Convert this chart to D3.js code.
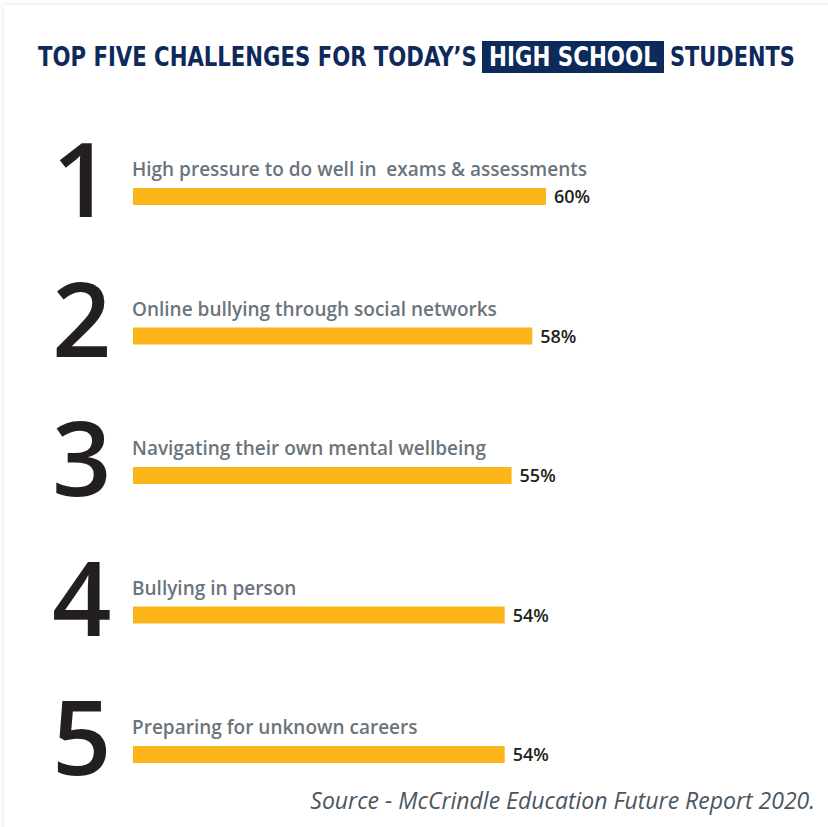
<!DOCTYPE html>
<html>
<head>
<meta charset="utf-8">
<script src="https://cdn.jsdelivr.net/npm/d3@7/dist/d3.min.js"></script>
<style>
  html, body { margin: 0; padding: 0; background: #fff; }
  svg { display: block; }
</style>
</head>
<body>
<div id="chart"></div>
<script>
// data
const ranks = ["1", "2", "3", "4", "5"];
const challenges = [
    "High pressure to do well in\u00a0 exams & assessments",
    "Online bullying through social networks",
    "Navigating their own mental wellbeing",
    "Bullying in person",
    "Preparing for unknown careers"
];
const percents = [60, 58, 55, 54, 54];
const titleParts = ["TOP FIVE CHALLENGES FOR TODAY\u2019S", "HIGH SCHOOL", "STUDENTS"];
const sourceText = "Source - McCrindle Education Future Report 2020.";

const width = 828, height = 827;
const navy = "#0d2a5b", gold = "#fbb518", grey = "#6b747c", ink = "#231f20";

const svg = d3.select("#chart").append("svg")
    .attr("width", width)
    .attr("height", height);

// card with a soft shadow along top and left
const defs = svg.append("defs");
const f = defs.append("filter").attr("id", "shadow")
    .attr("x", "-5%").attr("y", "-5%").attr("width", "110%").attr("height", "110%");
f.append("feDropShadow").attr("dx", 0).attr("dy", 0)
    .attr("stdDeviation", 2.5).attr("flood-color", "#000").attr("flood-opacity", 0.13);

svg.append("rect")
    .attr("x", 4).attr("y", 5)
    .attr("width", 900).attr("height", 900)
    .attr("fill", "#fff")
    .attr("filter", "url(#shadow)");

/* title: three pieces, the middle one on a navy box */
svg.append("rect")
    .attr("x", 482).attr("y", 41)
    .attr("width", 182).attr("height", 32)
    .attr("fill", navy);

// squeeze a text horizontally so it takes exactly w pixels
function titlePiece(x0, w, color, txt) {
    const g = svg.append("g");
    const t = g.append("text")
        .attr("font-family", "'Liberation Sans Narrow', 'DejaVu Sans Condensed', sans-serif")
        .attr("font-weight", 700)
        .attr("font-size", 26)
        .attr("fill", color)
        .text(txt);
    const len = t.node().getComputedTextLength();
    g.attr("transform", "translate(" + x0 + ",66) scale(" + (w / len) + ",1)");
}

titlePiece(38, 439, navy, titleParts[0]);
titlePiece(489, 168, "#fff", titleParts[1]);
titlePiece(670, 125, navy, titleParts[2]);

/* scales */
const x = d3.scaleLinear().domain([0, 60]).range([133, 546]);
const y = d3.scalePoint().domain(ranks).range([188, 746]);
const barH = 17;

const rows = svg.selectAll("g.row")
    .data(ranks.map(function (r, i) {
        return {rank: r, label: challenges[i], value: percents[i]};
    }))
    .enter().append("g")
    .attr("class", "row")
    .attr("transform", function (d) { return "translate(0," + y(d.rank) + ")"; });

rows.append("text")
    .attr("x", 52)
    .attr("y", 29)
    .attr("font-family", "'Open Sans', sans-serif")
    .attr("font-weight", 600)
    .attr("font-size", 104)
    .attr("fill", ink)
    .text(function (d) { return d.rank; });

rows.append("text")
    .attr("x", 132)
    .attr("y", -12)
    .attr("font-family", "'Open Sans', sans-serif")
    .attr("font-weight", 600)
    .attr("font-size", 19)
    .attr("fill", grey)
    .text(function (d) { return d.label; });

rows.append("rect")
    .attr("x", x(0))
    .attr("y", 0)
    .attr("width", function (d) { return x(d.value) - x(0); })
    .attr("height", barH)
    .attr("fill", gold);

rows.append("text")
    .attr("x", function (d) { return x(d.value) + 8; })
    .attr("y", 15)
    .attr("font-family", "'Open Sans', sans-serif")
    .attr("font-weight", 600)
    .attr("font-size", 18)
    .attr("fill", ink)
    .text(function (d) { return d.value + "%"; });

svg.append("text")
    .attr("x", 815)
    .attr("y", 809)
    .attr("text-anchor", "end")
    .attr("font-family", "'Open Sans', sans-serif")
    .attr("font-style", "italic")
    .attr("font-size", 23)
    .attr("fill", "#4b5661")
    .text(sourceText);
</script>
</body>
</html>
